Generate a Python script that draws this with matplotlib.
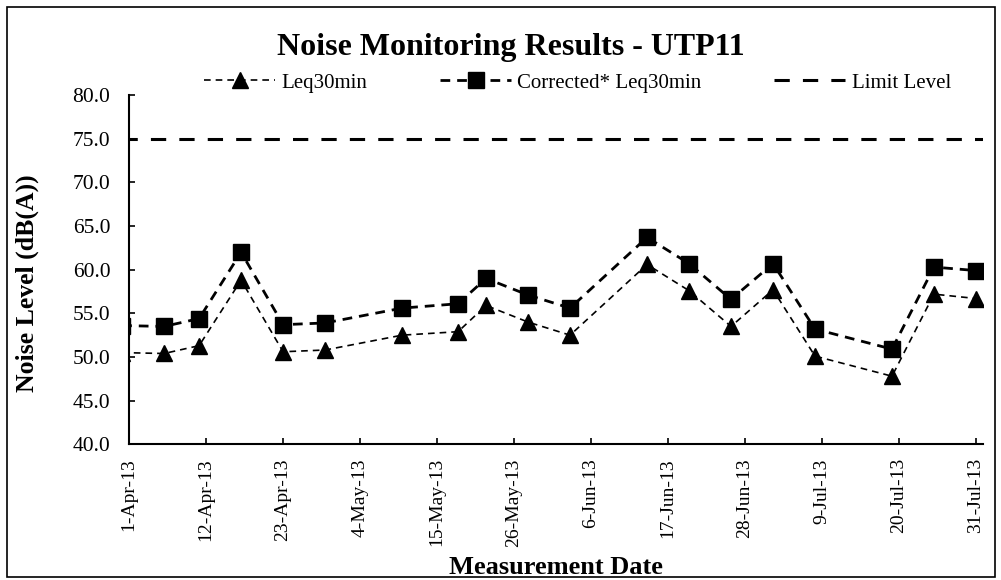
import matplotlib
matplotlib.use("Agg")
import matplotlib.pyplot as plt
from matplotlib.patches import Rectangle
import datetime as dt

plt.rcParams['font.family'] = ['Liberation Serif', 'DejaVu Serif']

# measurement dates (first one lies just before the axis start and gets clipped)
dates = ["2013-03-31", "2013-04-06", "2013-04-11", "2013-04-17", "2013-04-23",
         "2013-04-29", "2013-05-10", "2013-05-18", "2013-05-22", "2013-05-28",
         "2013-06-03", "2013-06-14", "2013-06-20", "2013-06-26", "2013-07-02",
         "2013-07-08", "2013-07-19", "2013-07-25", "2013-07-31"]
leq = [50.5, 50.4, 51.3, 58.8, 50.6, 50.8, 52.5, 52.9, 55.9, 54.0,
       52.5, 60.6, 57.6, 53.5, 57.7, 50.1, 47.8, 57.2, 56.7]
corrected = [53.6, 53.5, 54.4, 62.0, 53.7, 53.9, 55.6, 56.1, 59.0, 57.1,
             55.6, 63.7, 60.7, 56.6, 60.7, 53.2, 50.9, 60.3, 59.9]
limit = 75.0

x = [dt.datetime.strptime(d, "%Y-%m-%d") for d in dates]
start = dt.datetime(2013, 4, 1)
end = dt.datetime(2013, 8, 1)
ticks = [start + dt.timedelta(days=11 * i) for i in range(12)]

fig = plt.figure(figsize=(10.01, 5.8), dpi=100)
ax = fig.add_axes([0.129, 0.234, 0.853, 0.602])

ax.plot(x, leq, color='black', lw=1.2, dashes=(4, 3), marker='^', ms=11,
        label='Leq30min')
ax.plot(x, corrected, color='black', lw=2.0, dashes=(3.5, 2.5), marker='s', ms=11,
        label='Corrected* Leq30min')
ax.plot([start - dt.timedelta(days=1), end], [limit, limit], color='black', lw=2.2,
        dashes=(5, 4.3), label='Limit Level')

ax.set_xlim(start, end)
ax.set_ylim(40, 80)
ax.set_yticks([40 + 5 * i for i in range(9)])
ax.yaxis.set_major_formatter(matplotlib.ticker.FormatStrFormatter('%.1f'))
ax.set_xticks(ticks)
ax.set_xticklabels([f"{t.day}-{t.strftime('%b')}-{t.strftime('%y')}" for t in ticks],
                   rotation=90)

for s in ['top', 'right']:
    ax.spines[s].set_visible(False)
for s in ['left', 'bottom']:
    ax.spines[s].set_linewidth(1.5)
ax.tick_params(direction='in', length=4.5, width=1.2)
ax.tick_params(axis='y', labelsize=15.5, pad=13.5)
ax.tick_params(axis='x', labelsize=14, pad=10)

fig.text(0.027, 0.512, 'Noise Level (dB(A))', fontsize=18.5, fontweight='bold',
         rotation=90, ha='center', va='center')
fig.text(0.555, 0.021, 'Measurement Date', fontsize=19, fontweight='bold',
         ha='center', va='center')
fig.text(0.51, 0.918, 'Noise Monitoring Results - UTP11', fontsize=23,
         fontweight='bold', ha='center', va='center')

fig.legend(loc='center', bbox_to_anchor=(0.577, 0.857), ncol=3, frameon=False,
           fontsize=15, handlelength=3.4, columnspacing=3.5, handletextpad=0.3)

fig.patches.append(Rectangle((0.007, 0.005), 0.987, 0.983, transform=fig.transFigure,
                             fill=False, edgecolor='black', lw=1.2))

fig.savefig('out.png', dpi=100)
